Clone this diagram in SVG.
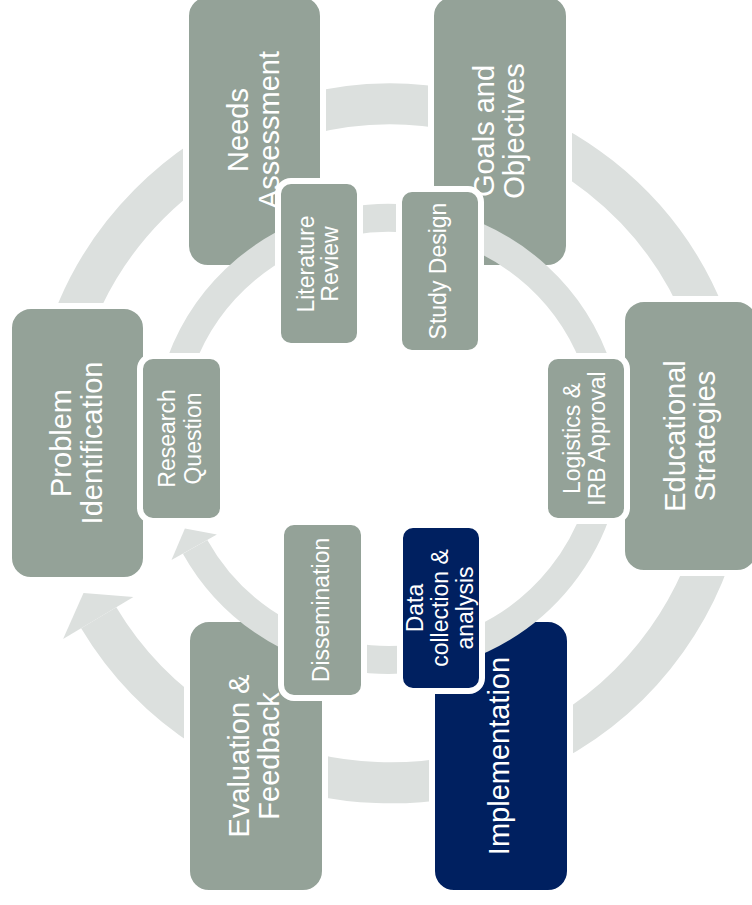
<svg xmlns="http://www.w3.org/2000/svg" width="752" height="905" viewBox="0 0 752 905">
  <style>
    .ring { fill: none; stroke: #DCE0DE; stroke-linecap: butt; }
    .head { fill: #DCE0DE; }
    .box { fill: #94A298; stroke: #FFFFFF; stroke-width: 6; }
    .box-dark { fill: #002060; stroke: #FFFFFF; stroke-width: 6; }
    text { font-family: "Liberation Sans", Arial, Helvetica, sans-serif; fill: #FFFFFF; text-anchor: middle; }
    .lg { font-size: 29px; }
    .sm { font-size: 23px; }
  </style>

  <rect x="0" y="0" width="752" height="905" fill="#FFFFFF"/>

  <!-- outer cycle arrow (runs clockwise, head ends at Problem Identification) -->
  <g id="connectors-outer">
    <path class="ring" stroke-width="41" d="M57.9,514.1 A339.5,339.5 0 1 1 98.7,617.8"/>
    <polygon class="head" points="63.1,639.1 133.4,597 83.5,593"/>
  </g>

  <!-- outer cycle nodes -->
  <g id="node-problem-identification">
    <rect class="box" x="9" y="306" width="137" height="274" rx="22"/>
    <text class="lg" transform="translate(0,443) rotate(-90)"><tspan x="0" y="71">Problem</tspan><tspan x="0" y="102">Identification</tspan></text>
  </g>
  <g id="node-needs-assessment">
    <rect class="box" x="186" y="-6" width="137" height="274" rx="22"/>
    <text class="lg" transform="translate(0,130) rotate(-90)"><tspan x="0" y="248">Needs</tspan><tspan x="0" y="279">Assessment</tspan></text>
  </g>
  <g id="node-goals-objectives">
    <rect class="box" x="431" y="-6" width="138" height="274" rx="22"/>
    <text class="lg" transform="translate(0,131) rotate(-90)"><tspan x="0" y="494">Goals and</tspan><tspan x="0" y="524">Objectives</tspan></text>
  </g>
  <g id="node-educational-strategies">
    <rect class="box" x="622" y="299" width="137" height="274" rx="22"/>
    <text class="lg" transform="translate(0,436) rotate(-90)"><tspan x="0" y="685">Educational</tspan><tspan x="0" y="715">Strategies</tspan></text>
  </g>
  <g id="node-implementation">
    <rect class="box-dark" x="432" y="619" width="138" height="274" rx="22"/>
    <text class="lg" transform="translate(0,756) rotate(-90)"><tspan x="0" y="509">Implementation</tspan></text>
  </g>
  <g id="node-evaluation-feedback">
    <rect class="box" x="187" y="619" width="138" height="274" rx="22"/>
    <text class="lg" transform="translate(0,756) rotate(-90)"><tspan x="0" y="249">Evaluation &amp;</tspan><tspan x="0" y="279">Feedback</tspan></text>
  </g>

  <!-- inner cycle arrow (runs clockwise, head ends at Research Question) -->
  <g id="connectors-inner">
    <path class="ring" stroke-width="28" d="M168.2,462.1 A221,221 0 1 1 195.1,546.8"/>
    <polygon class="head" points="171.5,560 216.9,534.6 184.9,528.6"/>
  </g>

  <!-- inner cycle nodes -->
  <g id="node-research-question">
    <rect class="box" x="140" y="356" width="83" height="165" rx="13"/>
    <text class="sm" transform="translate(0,438.5) rotate(-90)"><tspan x="0" y="175">Research</tspan><tspan x="0" y="201">Question</tspan></text>
  </g>
  <g id="node-literature-review">
    <rect class="box" x="278" y="181" width="82" height="165" rx="13"/>
    <text class="sm" transform="translate(0,264) rotate(-90)"><tspan x="0" y="313.5">Literature</tspan><tspan x="0" y="337.5">Review</tspan></text>
  </g>
  <g id="node-study-design">
    <rect class="box" x="399" y="189" width="82" height="164" rx="13"/>
    <text class="sm" transform="translate(0,271) rotate(-90)"><tspan x="0" y="446">Study Design</tspan></text>
  </g>
  <g id="node-logistics-irb">
    <rect class="box" x="545" y="356" width="82" height="165" rx="13"/>
    <text class="sm" transform="translate(0,438.5) rotate(-90)"><tspan x="0" y="579.5">Logistics &amp;</tspan><tspan x="0" y="604.5">IRB Approval</tspan></text>
  </g>
  <g id="node-data-collection">
    <rect class="box-dark" x="400" y="525" width="82" height="166" rx="13"/>
    <text class="sm" transform="translate(0,608) rotate(-90)"><tspan x="0" y="423">Data</tspan><tspan x="0" y="448">collection &amp;</tspan><tspan x="0" y="473">analysis</tspan></text>
  </g>
  <g id="node-dissemination">
    <rect class="box" x="281" y="522" width="83" height="176" rx="13"/>
    <text class="sm" transform="translate(0,610) rotate(-90)"><tspan x="0" y="328.5">Dissemination</tspan></text>
  </g>
</svg>
